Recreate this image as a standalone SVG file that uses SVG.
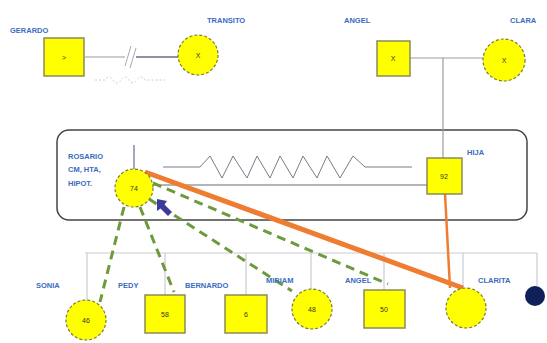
<svg xmlns="http://www.w3.org/2000/svg" width="547" height="343" viewBox="0 0 547 343">
  <style>
    .lbl { font-family: "Liberation Sans", Arial, sans-serif; font-size: 7.5px; font-weight: bold; fill: #3a6cc0; }
    .val { font-family: "Liberation Sans", Arial, sans-serif; font-size: 7px; fill: #333; text-anchor: middle; dominant-baseline: central; }
    .sq { fill: #ffff00; stroke: #8a8a5a; stroke-width: 1.5; }
    .ci { fill: #ffff00; stroke: #7a7a3a; stroke-width: 1.2; stroke-dasharray: 3 2; }
    .thin { stroke: #9a9aa8; stroke-width: 1.2; fill: none; }
    .sib { stroke: #c8ccd6; stroke-width: 1.2; fill: none; }
    .dash { stroke: #6c9a3c; stroke-width: 3; stroke-dasharray: 9 6; fill: none; }
    .orange { stroke: #ee7d31; fill: none; }
  </style>

  <rect width="547" height="343" fill="#ffffff"/>

  <!-- household frame -->
  <rect id="household" x="57" y="130" width="470" height="90" rx="12" ry="12" fill="#ffffff" stroke="#444" stroke-width="1.5"/>

  <g id="connectors">
    <!-- GERARDO - TRANSITO separated union -->
    <line class="thin" x1="85" y1="57" x2="125" y2="57"/>
    <line x1="136" y1="57" x2="178" y2="57" stroke="#6a6a88" stroke-width="1.5"/>
    <path d="M125 66 L131 46 M130 68 L136 48" fill="none" stroke="#a8a8b4" stroke-width="1"/>
    <path d="M95 80 H105 q4 -6 8 0 t8 0 t8 0 t8 0 t8 0 H165" fill="none" stroke="#c8ccd6" stroke-width="1" stroke-dasharray="2 2"/>

    <!-- ANGEL - CLARA union and descent to child -->
    <line class="thin" x1="410" y1="58" x2="483" y2="58"/>
    <line class="thin" x1="443" y1="58" x2="443" y2="158"/>

    <!-- ROSARIO descent line -->
    <line x1="134" y1="145" x2="134" y2="169" stroke="#6a6a90" stroke-width="1.2"/>

    <!-- conflictive relation (zigzag) -->
    <path d="M163 167 H200 L210 156 L222 178 L233 156 L247 178 L257 156 L270 178 L280 156 L293 178 L303 156 L317 178 L327 156 L340 178 L353 156 L365 167 H412" fill="none" stroke="#7a7a88" stroke-width="1"/>
    <!-- plain relation -->
    <line x1="153" y1="185" x2="427" y2="185" stroke="#6a6a7a" stroke-width="1.2"/>

    <!-- sibship line -->
    <path class="sib" d="M85 253 H537 M87 253 V300 M165 253 V295 M246 253 V295 M311 253 V289 M384 253 V290 M463 253 V288 M537 253 V286"/>

    <!-- strong bonds -->
    <line class="orange" x1="145" y1="172" x2="463" y2="288" stroke-width="5"/>
    <line class="orange" x1="445" y1="194" x2="450" y2="288" stroke-width="2.5"/>

    <!-- distant relations -->
    <line class="dash" x1="124" y1="207" x2="100" y2="302"/>
    <line class="dash" x1="140" y1="207" x2="174" y2="292"/>
    <line class="dash" x1="149" y1="199" x2="292" y2="291"/>
    <line class="dash" x1="153" y1="183" x2="388" y2="284"/>

    <!-- pointer arrow -->
    <path d="M157 199 L167 201 L164.5 204.5 L172 212 L168 216 L160.5 208.5 L157 211 Z" fill="#3c3c9a"/>
  </g>

  <g id="gerardo">
    <text class="lbl" x="10" y="33">GERARDO</text>
    <rect class="sq" x="44" y="38" width="40" height="38"/>
    <text class="val" x="64" y="57">&gt;</text>
  </g>

  <g id="transito">
    <text class="lbl" x="207" y="23">TRANSITO</text>
    <circle class="ci" cx="198" cy="55" r="20"/>
    <text class="val" x="198" y="55">X</text>
  </g>

  <g id="angel-parent">
    <text class="lbl" x="344" y="23">ANGEL</text>
    <rect class="sq" x="377" y="41" width="33" height="35"/>
    <text class="val" x="393" y="58">X</text>
  </g>

  <g id="clara">
    <text class="lbl" x="510" y="23">CLARA</text>
    <circle class="ci" cx="504" cy="60" r="21"/>
    <text class="val" x="504" y="60">X</text>
  </g>

  <g id="rosario">
    <text class="lbl" x="68" y="159">ROSARIO</text>
    <text class="lbl" x="68" y="172">CM, HTA,</text>
    <text class="lbl" x="68" y="186">HIPOT.</text>
    <circle class="ci" cx="134" cy="188" r="19"/>
    <text class="val" x="134" y="188">74</text>
  </g>

  <g id="hija">
    <text class="lbl" x="467" y="155">HIJA</text>
    <rect class="sq" x="427" y="158" width="35" height="36"/>
    <text class="val" x="444" y="176">92</text>
  </g>

  <g id="sonia">
    <text class="lbl" x="36" y="288">SONIA</text>
    <circle class="ci" cx="86" cy="320" r="20"/>
    <text class="val" x="86" y="320">46</text>
  </g>

  <g id="pedy">
    <text class="lbl" x="118" y="288">PEDY</text>
    <rect class="sq" x="145" y="295" width="40" height="38"/>
    <text class="val" x="165" y="314">58</text>
  </g>

  <g id="bernardo">
    <text class="lbl" x="185" y="288">BERNARDO</text>
    <rect class="sq" x="225" y="295" width="42" height="38"/>
    <text class="val" x="246" y="314">6</text>
  </g>

  <g id="miriam">
    <text class="lbl" x="266" y="283">MIRIAM</text>
    <circle class="ci" cx="312" cy="309" r="20"/>
    <text class="val" x="312" y="309">48</text>
  </g>

  <g id="angel-child">
    <text class="lbl" x="345" y="283">ANGEL</text>
    <rect class="sq" x="364" y="290" width="41" height="38"/>
    <text class="val" x="384" y="309">50</text>
  </g>

  <g id="daughter">
    <circle class="ci" cx="466" cy="308" r="20"/>
  </g>

  <g id="clarita">
    <text class="lbl" x="478" y="283">CLARITA</text>
    <circle cx="535" cy="296" r="10" fill="#0f1f5a"/>
  </g>
</svg>
